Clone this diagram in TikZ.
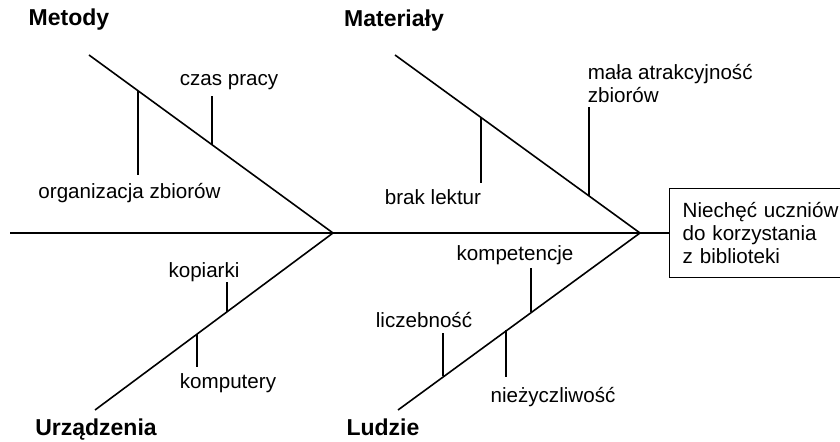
\documentclass[tikz,border=0pt]{standalone}
\usepackage{fontspec}
\setmainfont{Liberation Sans}
\usetikzlibrary{positioning}

\begin{document}
\begin{tikzpicture}[
    x=0.5pt, y=-0.5pt,
    line width=0.75pt,
    cause/.style={font=\fontsize{10.3}{11.4}\selectfont, inner sep=0pt},
    group/.style={font=\fontsize{11.5}{13}\selectfont\bfseries, inner sep=0pt},
    effectbox/.style={draw, line width=0.7pt, anchor=west, align=left, text width=80pt,
        minimum height=44.5pt, inner xsep=6.5pt, font=\fontsize{10.3}{11.3}\selectfont},
    rib/.style={line width=0.8pt},
    twig/.style={line width=0.9pt},
]
\clip (0,0) rectangle (840,442);

% Effect and spine
\node[effectbox] (effect) at (669,233) {Niechęć uczniów\\do korzystania\\z biblioteki};
\coordinate (tail) at (10,233);
\coordinate (head1) at (333,233);
\coordinate (head2) at (640,233);
\draw[rib] (tail) -- (effect.west);

% Main ribs
\coordinate (metEnd) at (89,55);
\coordinate (matEnd) at (395,55);
\coordinate (urzEnd) at (95,410);
\coordinate (ludEnd) at (398,410);
\draw[rib] (metEnd) -- (head1) -- (urzEnd);
\draw[rib] (matEnd) -- (head2) -- (ludEnd);

% Group names
\node[group] (metody) at (69,20) {Metody};
\node[group] (materialy) at (394,21) {Materiały};
\node[group, anchor=base] (urzadzenia) at (96,436) {Urządzenia};
\node[group, anchor=base] (ludzie) at (383,436) {Ludzie};

% Metody
\node[cause] (czas) at (229,82) {czas pracy};
\node[cause] (organizacja) at (129.5,193) {organizacja zbiorów};
\coordinate (czasA) at (212,145);
\coordinate (czasB) at (212,96);
\coordinate (orgA) at (138,91);
\coordinate (orgB) at (138,175);
\draw[twig] (czasA) -- (czasB);
\draw[twig] (orgA) -- (orgB);

% Materialy
\node[cause] (brak) at (433,197) {brak lektur};
\node[cause, anchor=west, align=left] (mala) at (587,83.5) {mała atrakcyjność\\zbiorów};
\coordinate (brakA) at (481,118);
\coordinate (brakB) at (481,183);
\coordinate (malaA) at (589,196);
\coordinate (malaB) at (589,107);
\draw[twig] (brakA) -- (brakB);
\draw[twig] (malaA) -- (malaB);

% Urzadzenia
\node[cause] (kopiarki) at (204,272) {kopiarki};
\node[cause] (komputery) at (228,383) {komputery};
\coordinate (kopA) at (227,312);
\coordinate (kopB) at (227,282);
\coordinate (komA) at (197,334);
\coordinate (komB) at (197,367);
\draw[twig] (kopA) -- (kopB);
\draw[twig] (komA) -- (komB);

% Ludzie
\node[cause] (kompetencje) at (515,255) {kompetencje};
\node[cause] (liczebnosc) at (424,320) {liczebność};
\node[cause] (niezyczliwosc) at (553,397) {nieżyczliwość};
\coordinate (kptA) at (531,312);
\coordinate (kptB) at (531,268);
\coordinate (liczA) at (443,376);
\coordinate (liczB) at (443,333);
\coordinate (niezA) at (506,330);
\coordinate (niezB) at (506,377);
\draw[twig] (kptA) -- (kptB);
\draw[twig] (liczA) -- (liczB);
\draw[twig] (niezA) -- (niezB);

\end{tikzpicture}
\end{document}
